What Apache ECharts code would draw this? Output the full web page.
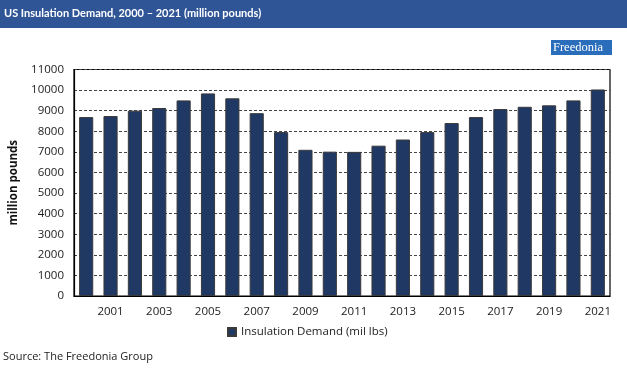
<!DOCTYPE html>
<html>
<head>
<meta charset="utf-8">
<script src="https://cdn.jsdelivr.net/npm/echarts@6/dist/echarts.min.js"></script>
<style>
html,body{margin:0;padding:0;background:#fff;}
#c{width:627px;height:380px;}
</style>
</head>
<body>
<div id="c"></div>
<script>
const years = ['2000','2001','2002','2003','2004','2005','2006','2007','2008','2009','2010','2011','2012','2013','2014','2015','2016','2017','2018','2019','2020','2021'];
const demand = [8690,8740,9000,9130,9500,9840,9600,8880,7960,7100,7010,7000,7300,7600,7960,8400,8690,9080,9190,9260,9500,10030];
const yTicks = [0,1000,2000,3000,4000,5000,6000,7000,8000,9000,10000,11000];
const seriesName = 'Insulation Demand (mil lbs)';
const titleText = 'US Insulation Demand, 2000 \u2013 2021 (million pounds)';
const yAxisName = 'million pounds';
const sourceText = 'Source: The Freedonia Group';

const FONT = '"Open Sans", "Noto Sans", sans-serif';
const chart = echarts.init(document.getElementById('c'), null, {renderer:'canvas'});
chart.setOption({
  animation:false,
  backgroundColor:'#fff',
  graphic:[
    {type:'rect', left:0, top:0, shape:{width:627, height:28}, style:{fill:'#2F5597'}},
    {type:'text', left:4, top:8, style:{text:titleText, fill:'#fff', font:'bold 11px Lato, "Open Sans", sans-serif'}},
    {type:'rect', left:551, top:40, shape:{width:61, height:16}, style:{fill:'#2A6EBB'}},
    {type:'rect', left:551, top:55, shape:{width:61, height:1}, style:{fill:'#fff'}},
    {type:'text', left:553, top:41, style:{text:'Freedonia', fill:'#fff', font:'12.5px "Liberation Serif", serif'}},
    {type:'text', left:3, top:351, style:{text:sourceText, fill:'#222', font:'11px ' + FONT}}
  ],
  grid:{left:72, right:17, top:69.5, bottom:84, show:true, borderColor:'#000', borderWidth:1.2, containLabel:false},
  legend:{
    data:[seriesName], bottom:37, left:222, itemWidth:8, itemHeight:8, itemGap:4,
    icon:'rect',
    textStyle:{fontFamily:FONT, fontSize:11.5, color:'#222'}
  },
  xAxis:{
    type:'category', data:years,
    axisLine:{lineStyle:{color:'#000', width:1.2}},
    axisTick:{show:false},
    axisLabel:{interval:(i)=> i % 2 === 1, fontFamily:FONT, fontSize:11.5, color:'#222', margin:10}
  },
  yAxis:{
    type:'value', min:yTicks[0], max:yTicks[yTicks.length-1], interval:1000,
    name:yAxisName, nameLocation:'middle', nameGap:54, nameRotate:90,
    nameTextStyle:{fontFamily:FONT, fontSize:11.5, color:'#111', fontWeight:'bold'},
    axisLine:{show:true, lineStyle:{color:'#000', width:1.2}},
    axisTick:{show:false},
    axisLabel:{formatter:(v)=>String(v), fontFamily:FONT, fontSize:11.5, color:'#222', margin:10},
    splitLine:{lineStyle:{color:'#444', type:[3,2], width:1}}
  },
  series:[{
    name:seriesName, type:'bar', data:demand, barWidth:'58%',
    itemStyle:{color:'#203864', borderColor:'#3a3a3a', borderWidth:1}
  }]
});
</script>
</body>
</html>
